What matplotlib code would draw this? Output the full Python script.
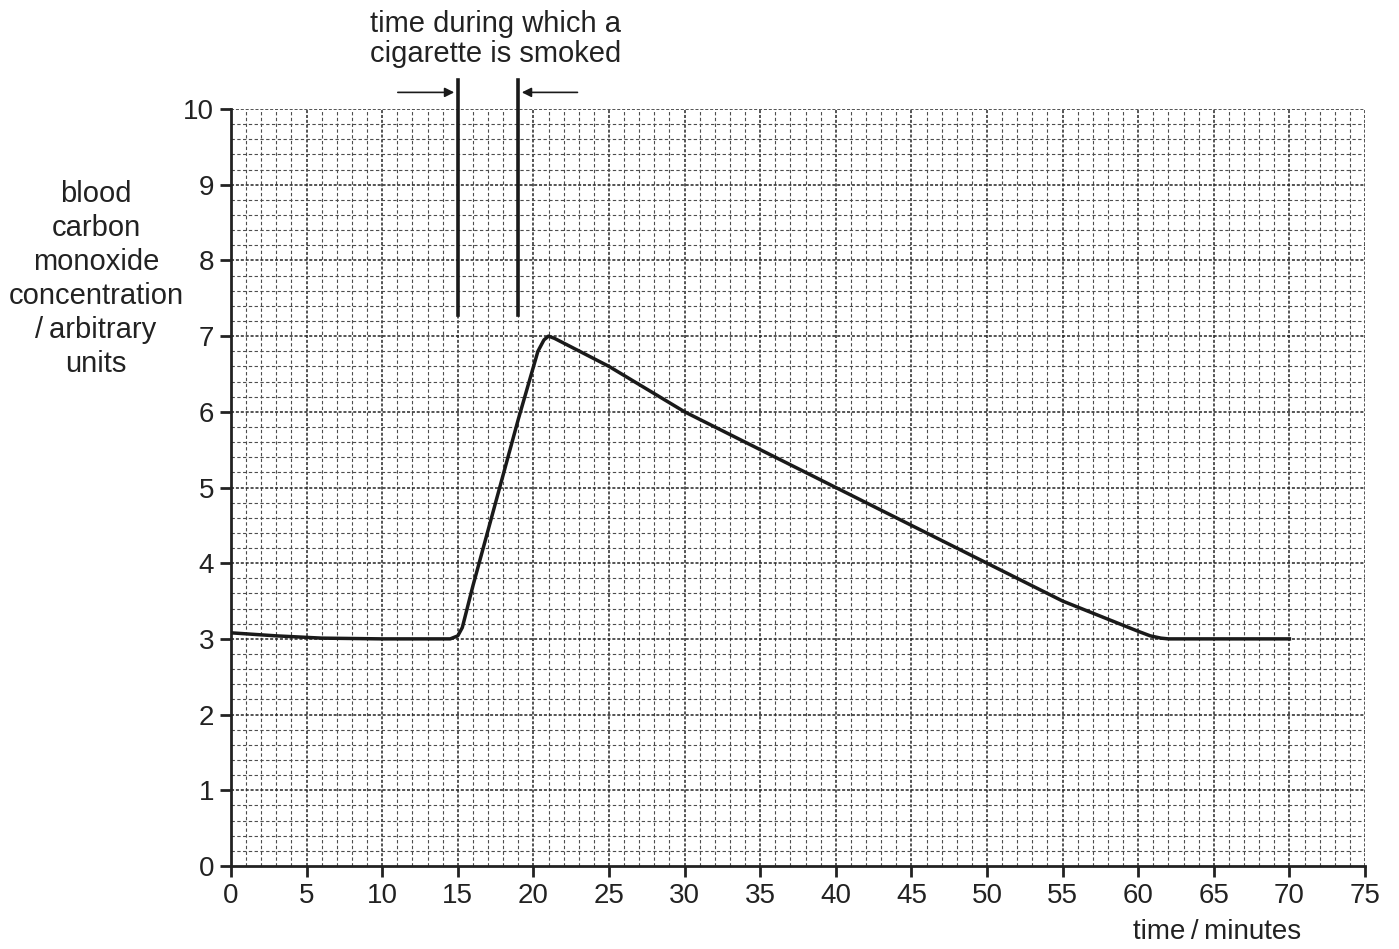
import matplotlib
matplotlib.use("Agg")
import matplotlib.pyplot as plt
import numpy as np

plt.rcParams['font.family'] = ['Liberation Sans', 'DejaVu Sans']

time_min = [0, 3, 6, 10, 14.5, 15.0, 15.3, 16, 19, 20.3, 20.7, 21, 21.4, 25, 30, 35, 40, 45, 50, 55, 60, 60.8, 61.5, 62, 70]
co_conc = [3.08, 3.04, 3.01, 3.0, 3.0, 3.04, 3.15, 3.7, 5.9, 6.8, 6.95, 7.0, 6.97, 6.6, 6.0, 5.5, 5.0, 4.5, 4.0, 3.5, 3.1, 3.04, 3.01, 3.0, 3.0]
smoke_start = 15
smoke_end = 19
x_ticks = list(range(0, 76, 5))
y_ticks = list(range(0, 11))

fig = plt.figure(figsize=(13.99, 9.49), dpi=100)
ax = fig.add_axes([0.1651, 0.0875, 0.8106, 0.7976])
ax.set_xlim(0, 75)
ax.set_ylim(0, 10)

# grid
for xv in np.arange(1, 76, 1):
    major = (xv % 5 == 0)
    ax.axvline(xv, color='0.15' if major else '0.3',
               lw=1.1 if major else 0.8,
               ls=(0, (2, 1.2)) if major else (0, (3, 2.2)), zorder=1)
for k in range(1, 51):
    yv = k * 0.2
    major = (k % 5 == 0)
    ax.axhline(yv, color='0.15' if major else '0.3',
               lw=1.1 if major else 0.8,
               ls=(0, (2, 1.2)) if major else (0, (3, 2.2)), zorder=1)

ax.plot(time_min, co_conc, color='#1a1a1a', lw=2.5, solid_joinstyle='round', zorder=3)

for s in ['top', 'right']:
    ax.spines[s].set_visible(False)
for s in ['left', 'bottom']:
    ax.spines[s].set_linewidth(2.0)
    ax.spines[s].set_color('#222222')

ax.set_xticks(x_ticks)
ax.set_yticks(y_ticks)
ax.tick_params(direction='out', length=8, width=2, color='#222222', labelsize=20, pad=4,
               labelcolor='#222222')

# smoking interval markers
for xv in (smoke_start, smoke_end):
    ax.plot([xv, xv], [7.28, 10.38], color='#1a1a1a', lw=2.6, clip_on=False, zorder=4)
ax.annotate('', xy=(smoke_start - 0.05, 10.22), xytext=(10.85, 10.22),
            arrowprops=dict(arrowstyle='-|>', color='#1a1a1a', lw=1.2, mutation_scale=14),
            annotation_clip=False)
ax.annotate('', xy=(smoke_end + 0.05, 10.22), xytext=(23.1, 10.22),
            arrowprops=dict(arrowstyle='-|>', color='#1a1a1a', lw=1.2, mutation_scale=14),
            annotation_clip=False)

fig.text(496 / 1399, 1 - 39 / 949, 'time during which a\ncigarette is smoked',
         ha='center', va='center', fontsize=21, color='#222222', linespacing=1.05)

fig.text(96 / 1399, 1 - 279 / 949,
         'blood\ncarbon\nmonoxide\nconcentration\n/\u2009arbitrary\nunits',
         ha='center', va='center', fontsize=21, color='#222222', linespacing=1.28)

fig.text(1217 / 1399, 1 - 932 / 949, 'time\u2009/\u2009minutes', ha='center', va='center',
         fontsize=20, color='#222222')

fig.savefig('out.png', dpi=100)
